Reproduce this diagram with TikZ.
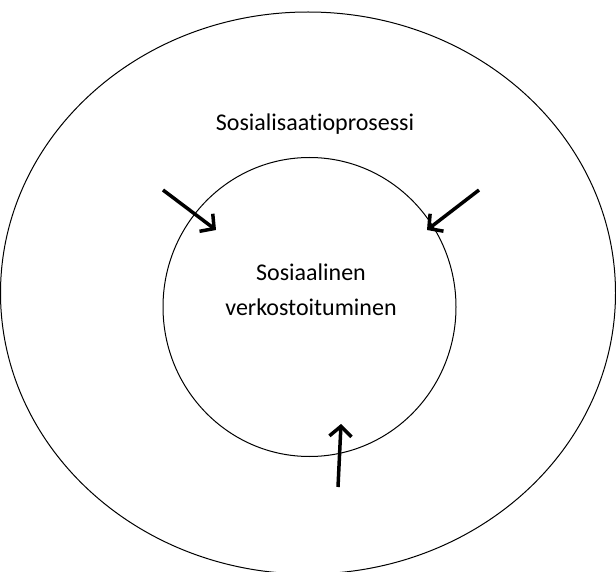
\documentclass[tikz,border=0pt]{standalone}
\usepackage{fontspec}
\setmainfont{Carlito}[Ligatures=NoCommon]
\usetikzlibrary{arrows.meta}
\begin{document}
\begin{tikzpicture}[x=1pt,y=-1pt,
  ring/.style={draw=black,line width=1pt},
  push/.style={draw=black,line width=3.5pt,-{Straight Barb[length=10pt,width=22pt,line width=3.5pt]}},
  lbl/.style={font=\fontsize{24}{35}\selectfont,align=center,inner sep=0pt}]
\useasboundingbox (0,0) rectangle (616,572);
\path[ring] (308,293) ellipse [x radius=307.5, y radius=281];
\path[ring] (309.5,307) ellipse [x radius=146.5, y radius=149.5];
\node[lbl] (outer) at (315,124) {Sosialisaatioprosessi};
\node[lbl] (inner) at (311,290) {Sosiaalinen\\verkostoituminen};
\coordinate (a1) at (163,190); \coordinate (b1) at (216,230);
\coordinate (a2) at (479,190); \coordinate (b2) at (427,230);
\coordinate (a3) at (338,487); \coordinate (b3) at (341,424);
\draw[push] (a1) -- (b1);
\draw[push] (a2) -- (b2);
\draw[push] (a3) -- (b3);
\end{tikzpicture}
\end{document}
